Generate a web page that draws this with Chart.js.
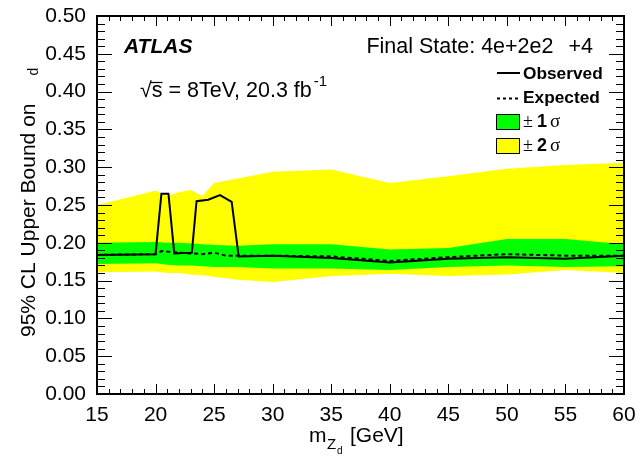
<!DOCTYPE html>
<html>
<head>
<meta charset="utf-8">
<script src="https://cdn.jsdelivr.net/npm/chart.js@4.4.1/dist/chart.umd.min.js"></script>
<style>
  html, body { margin: 0; padding: 0; background: #fff; }
  #wrap { width: 638px; height: 464px; }
</style>
</head>
<body>
<div id="wrap"><canvas id="c" width="638" height="464"></canvas></div>
<script>
// ---- data ----
const bandMass = [15, 20, 21, 22, 23, 24, 25, 27, 30, 35, 40, 45, 50, 55, 60];
const plus2Sigma  = [0.250, 0.269, 0.262, 0.267, 0.270, 0.262, 0.279, 0.285, 0.294, 0.297, 0.279, 0.288, 0.298, 0.303, 0.306];
const plus1Sigma  = [0.200, 0.201, 0.200, 0.200, 0.199, 0.198, 0.197, 0.196, 0.198, 0.198, 0.191, 0.193, 0.205, 0.205, 0.198];
const minus1Sigma = [0.172, 0.173, 0.171, 0.170, 0.170, 0.169, 0.168, 0.168, 0.166, 0.166, 0.164, 0.168, 0.170, 0.168, 0.169];
const minus2Sigma = [0.161, 0.162, 0.160, 0.160, 0.158, 0.157, 0.155, 0.151, 0.148, 0.156, 0.159, 0.156, 0.158, 0.164, 0.160];

const obsMass = [15, 20, 20.5, 21.1, 21.6, 23.1, 23.5, 24.5, 25.5, 26.5, 27.1, 30, 35, 40, 45, 50, 55, 60];
const observed = [0.184, 0.185, 0.265, 0.265, 0.186, 0.187, 0.255, 0.257, 0.263, 0.254, 0.182, 0.183, 0.180, 0.174, 0.179, 0.181, 0.179, 0.183];

const expMass = [15, 20, 20.5, 22, 23, 24, 25, 26, 27, 30, 35, 40, 45, 50, 55, 60];
const expected = [0.184, 0.185, 0.189, 0.187, 0.186, 0.185, 0.187, 0.183, 0.183, 0.183, 0.182, 0.176, 0.181, 0.185, 0.183, 0.183];

const xTicks = [15, 20, 25, 30, 35, 40, 45, 50, 55, 60];
const yTicks = [0.00, 0.05, 0.10, 0.15, 0.20, 0.25, 0.30, 0.35, 0.40, 0.45, 0.50];

const pts = (xs, ys) => xs.map((x, i) => ({ x: x, y: ys[i] }));
const FONT = '"Liberation Sans", Arial, Helvetica, sans-serif';

const framePlugin = {
  id: 'frame',
  afterDatasetsDraw(chart) {
    const { ctx, chartArea: { left, right, top, bottom }, scales: { x, y } } = chart;
    ctx.save();
    ctx.strokeStyle = '#000';
    ctx.lineWidth = 1;
    ctx.beginPath();
    const xMin = xTicks[0], xMax = xTicks[xTicks.length - 1];
    for (let v = xMin; v <= xMax; v += 1) {
      const px = Math.round(x.getPixelForValue(v)) + 0.5;
      const len = (v % 5 === 0) ? 10 : 5;
      ctx.moveTo(px, bottom); ctx.lineTo(px, bottom - len);
      ctx.moveTo(px, top); ctx.lineTo(px, top + len);
    }
    for (let i = 0; i <= 50; i++) {
      const py = Math.round(y.getPixelForValue(i / 100)) + 0.5;
      const len = (i % 5 === 0) ? 15 : 8;
      ctx.moveTo(left, py); ctx.lineTo(left + len, py);
      ctx.moveTo(right, py); ctx.lineTo(right - len, py);
    }
    ctx.stroke();
    ctx.lineWidth = 2;
    ctx.strokeRect(left, top, right - left, bottom - top);
    ctx.restore();
  },
  afterDraw(chart) {
    const { ctx } = chart;
    ctx.save();
    ctx.fillStyle = '#000';
    ctx.textBaseline = 'alphabetic';

    // ATLAS label
    ctx.font = 'italic bold 21px ' + FONT;
    ctx.textAlign = 'left';
    ctx.fillText('ATLAS', 124, 53);

    // sqrt(s) text
    ctx.font = '21.5px ' + FONT;
    let t1 = '\u221As = 8TeV, 20.3 fb';
    ctx.fillText(t1, 140, 97);
    const w1 = ctx.measureText(t1).width;
    const wsq = ctx.measureText('\u221A').width;
    const ws = ctx.measureText('s').width;
    ctx.lineWidth = 1.2;
    ctx.beginPath(); ctx.moveTo(140 + wsq - 1, 82.5); ctx.lineTo(140 + wsq + ws, 82.5); ctx.stroke();
    ctx.font = '15px ' + FONT;
    ctx.fillText('-1', 140 + w1 + 2, 86);

    // Final state
    ctx.font = '21.5px ' + FONT;
    ctx.textAlign = 'right';
    const tail = '+4';
    ctx.fillText(tail, 593, 53);
    const wt = ctx.measureText(tail).width;
    ctx.fillText('Final State: 4e+2e2', 593 - wt - 15, 53);

    // legend
    ctx.textAlign = 'left';
    ctx.strokeStyle = '#000';
    ctx.lineWidth = 2;
    ctx.beginPath(); ctx.moveTo(497, 73); ctx.lineTo(520, 73); ctx.stroke();
    ctx.setLineDash([3, 3]);
    ctx.beginPath(); ctx.moveTo(497, 98.5); ctx.lineTo(520, 98.5); ctx.stroke();
    ctx.setLineDash([]);
    ctx.font = 'bold 17.3px ' + FONT;
    ctx.fillText('Observed', 523, 78.5);
    ctx.fillText('Expected', 523, 103);

    ctx.lineWidth = 1;
    ctx.fillStyle = '#00ff00';
    ctx.fillRect(496, 114, 23, 15);
    ctx.strokeRect(496.5, 114.5, 23, 15);
    ctx.fillStyle = '#ffff00';
    ctx.fillRect(496, 138, 23, 15);
    ctx.strokeRect(496.5, 138.5, 23, 15);
    ctx.fillStyle = '#000';
    const sig = (yb, n) => {
      ctx.font = '18px "Liberation Serif", "DejaVu Serif", serif';
      ctx.fillText('\u00B1', 523, yb);
      ctx.font = 'bold 18px ' + FONT;
      ctx.fillText(n, 537, yb);
      ctx.font = '19px "Liberation Serif", "DejaVu Serif", serif';
      ctx.fillText('\u03C3', 550, yb);
    };
    sig(127, '1');
    sig(151, '2');

    // x axis title
    const xb = 442;
    ctx.font = '21px ' + FONT;
    ctx.fillText('m', 309, xb);
    ctx.font = '15px ' + FONT;
    ctx.fillText('Z', 327, xb + 7);
    ctx.font = '10px ' + FONT;
    ctx.fillText('d', 337, xb + 12);
    ctx.font = '21px ' + FONT;
    ctx.fillText('[GeV]', 350, xb);

    // y axis title
    ctx.translate(35, 205);
    ctx.rotate(-Math.PI / 2);
    ctx.font = '21px ' + FONT;
    const yt = '95% CL Upper Bound on';
    const wyt = ctx.measureText(yt).width;
    const start = -132;
    ctx.textAlign = 'left';
    ctx.fillText(yt, start, 0);
    ctx.font = '14px ' + FONT;
    ctx.fillText('d', start + wyt + 28, 3);
    ctx.restore();
  }
};

const chart = new Chart(document.getElementById('c'), {
  type: 'line',
  data: {
    datasets: [
      { label: 'Observed', data: pts(obsMass, observed), borderColor: '#000', borderWidth: 2,
        pointRadius: 0, fill: false, tension: 0, order: 0 },
      { label: 'Expected', data: pts(expMass, expected), borderColor: '#000', borderWidth: 2,
        borderDash: [4, 3], pointRadius: 0, fill: false, tension: 0, order: 1 },
      { label: '+1 sigma', data: pts(bandMass, plus1Sigma), borderWidth: 0, borderColor: 'rgba(0,0,0,0)',
        backgroundColor: '#00ff00', pointRadius: 0, fill: 3, tension: 0, order: 2 },
      { label: '-1 sigma', data: pts(bandMass, minus1Sigma), borderWidth: 0, borderColor: 'rgba(0,0,0,0)',
        pointRadius: 0, fill: false, tension: 0, order: 2 },
      { label: '+2 sigma', data: pts(bandMass, plus2Sigma), borderWidth: 0, borderColor: 'rgba(0,0,0,0)',
        backgroundColor: '#ffff00', pointRadius: 0, fill: 5, tension: 0, order: 3 },
      { label: '-2 sigma', data: pts(bandMass, minus2Sigma), borderWidth: 0, borderColor: 'rgba(0,0,0,0)',
        pointRadius: 0, fill: false, tension: 0, order: 3 }
    ]
  },
  options: {
    responsive: false,
    animation: false,
    events: [],
    layout: { padding: { left: 0, top: 16, right: 14, bottom: 0 } },
    plugins: { legend: { display: false }, tooltip: { enabled: false }, filler: { propagate: false } },
    scales: {
      x: {
        type: 'linear', min: xTicks[0], max: xTicks[xTicks.length - 1],
        grid: { display: false, drawTicks: false }, border: { display: false },
        afterFit: (s) => { s.height = 70; s.paddingLeft = 0; s.paddingRight = 0; },
        afterBuildTicks: (s) => { s.ticks = xTicks.map(v => ({ value: v })); },
        ticks: { autoSkip: false, maxRotation: 0, padding: 9, color: '#000',
                 font: { family: FONT, size: 21 }, callback: (v) => String(v) }
      },
      y: {
        type: 'linear', min: yTicks[0], max: yTicks[yTicks.length - 1],
        grid: { display: false, drawTicks: false }, border: { display: false },
        afterFit: (s) => { s.width = 97; s.paddingTop = 0; s.paddingBottom = 0; },
        afterBuildTicks: (s) => { s.ticks = yTicks.map(v => ({ value: v })); },
        ticks: { autoSkip: false, padding: 11, color: '#000',
                 font: { family: FONT, size: 21 }, callback: (v) => Number(v).toFixed(2) }
      }
    }
  },
  plugins: [framePlugin]
});
</script>
</body>
</html>
